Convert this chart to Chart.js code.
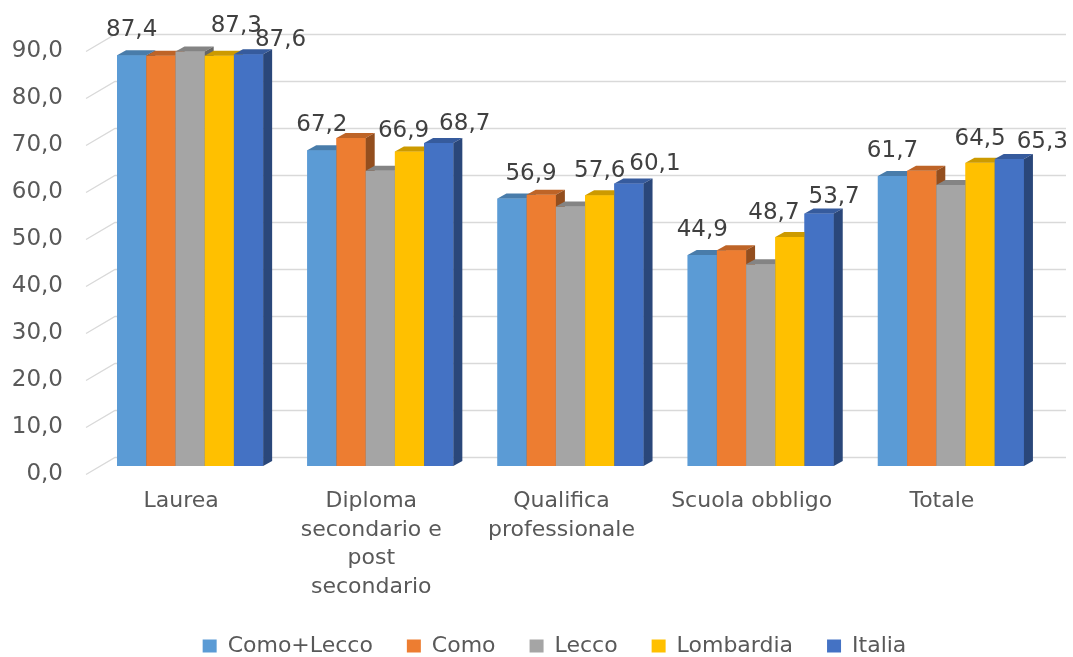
<!DOCTYPE html>
<html>
<head>
<meta charset="utf-8">
<script src="https://cdn.jsdelivr.net/npm/chart.js@4.4.0/dist/chart.umd.min.js"></script>
<style>
html, body { margin: 0; padding: 0; background: #fff; }
#wrap { width: 1073px; height: 657px; position: relative; }
</style>
</head>
<body>
<div id="wrap"><canvas id="chart"></canvas></div>
<script>
// ── Data ───────────────────────────────────────
const categories = ['Laurea', ['Diploma', 'secondario e', 'post', 'secondario'], ['Qualifica', 'professionale'], 'Scuola obbligo', 'Totale'];
const seriesNames = ['Como+Lecco', 'Como', 'Lecco', 'Lombardia', 'Italia'];
const comoLecco = [87.4, 67.2, 56.9, 44.9, 61.7];
const como      = [87.3, 69.8, 57.7, 45.9, 62.8];
const lecco     = [88.2, 62.8, 55.2, 42.9, 59.8];
const lombardia = [87.3, 66.9, 57.6, 48.7, 64.5];
const italia    = [87.6, 68.7, 60.1, 53.7, 65.3];
const yTicks = [0, 10, 20, 30, 40, 50, 60, 70, 80, 90];
const labelled = [true, false, false, true, true];   // which series show value labels

// ── Styles ─────────────────────────────────────
const barColors = ['#5B9BD5', '#ED7D31', '#A5A5A5', '#FFC000', '#4472C4'];
const labelDx = [0, 0, 0, 0, 26];
const labelDy = [-25, -25, -25, -24, -19];
// a few labels were moved by Excel to avoid overlaps ('series-category': [dx, dy])
const labelNudge = { '3-0': [17, -6], '4-0': [6, 5], '0-2': [19, 0], '3-1': [-6, 3], '3-3': [-16, 0], '4-3': [-11, 2], '4-4': [7, 2] };
const FONT = "'DejaVu Sans', sans-serif";
const wall = { dx: 29, dy: 17 };   // back wall offset of the gridlines
const shift = { dx: 9, dy: 8 };    // bars sit this far inside the floor
const depth = { dx: 9, dy: 5 };    // bar depth
const legendShift = 36;

function shade(hex, f) {
    const n = parseInt(hex.slice(1), 16);
    const r = Math.round(((n >> 16) & 255) * f);
    const g = Math.round(((n >> 8) & 255) * f);
    const b = Math.round((n & 255) * f);
    return 'rgb(' + r + ',' + g + ',' + b + ')';
}
const fmt = v => v.toFixed(1).replace('.', ',');

// ── 3D bars plugin ─────────────────────────────
const bars3d = {
    id: 'bars3d',
    afterLayout(chart) {
        // legend sits a little right of centre, like the original
        chart.legend.left += legendShift;
        chart.legend.right += legendShift;
    },
    beforeDatasetsDraw(chart) {
        const { ctx, chartArea: a, scales: { y } } = chart;
        ctx.save();
        ctx.strokeStyle = '#d9d9d9';
        ctx.lineWidth = 1.3;
        yTicks.forEach(v => {
            const py = Math.round(y.getPixelForValue(v)) + 0.5;
            ctx.beginPath();
            ctx.moveTo(a.left, py);
            ctx.lineTo(a.left + wall.dx, py - wall.dy);
            ctx.lineTo(a.right + wall.dx, py - wall.dy);
            ctx.stroke();
        });
        ctx.restore();
        ctx.save();
        ctx.translate(shift.dx, -shift.dy);
    },
    afterDatasetsDraw(chart) {
        const ctx = chart.ctx;
        const metas = chart.data.datasets.map((d, i) => chart.getDatasetMeta(i));
        // draw left to right so each front hides the previous side face
        categories.forEach((c, j) => {
            metas.forEach((meta, i) => {
                const bar = meta.data[j];
                const { x, y, base, width } = bar.getProps(['x', 'y', 'base', 'width'], true);
                const l = x - width / 2, r = x + width / 2;
                const col = barColors[i];
                ctx.fillStyle = col;
                ctx.fillRect(l, y, width, base - y);
                ctx.fillStyle = shade(col, 0.8);
                ctx.beginPath();
                ctx.moveTo(l, y); ctx.lineTo(r, y);
                ctx.lineTo(r + depth.dx, y - depth.dy); ctx.lineTo(l + depth.dx, y - depth.dy);
                ctx.closePath(); ctx.fill();
                ctx.fillStyle = shade(col, 0.62);
                ctx.beginPath();
                ctx.moveTo(r, y); ctx.lineTo(r + depth.dx, y - depth.dy);
                ctx.lineTo(r + depth.dx, base - depth.dy); ctx.lineTo(r, base);
                ctx.closePath(); ctx.fill();
            });
        });
        // value labels
        ctx.font = '23px ' + FONT;
        ctx.fillStyle = '#404040';
        ctx.textAlign = 'center';
        ctx.textBaseline = 'middle';
        metas.forEach((meta, i) => {
            if (!labelled[i]) return;
            const vals = chart.data.datasets[i].data;
            meta.data.forEach((bar, j) => {
                const n = labelNudge[i + '-' + j] || [0, 0];
                ctx.fillText(fmt(vals[j]), bar.x + labelDx[i] + n[0], bar.y + labelDy[i] + n[1]);
            });
        });
        ctx.restore();
    }
};

// ── Chart ──────────────────────────────────────
const seriesData = [comoLecco, como, lecco, lombardia, italia];
new Chart(document.getElementById('chart'), {
    type: 'bar',
    data: {
        labels: categories,
        datasets: seriesNames.map((name, i) => ({
            label: name,
            data: seriesData[i],
            backgroundColor: barColors[i],
            borderWidth: 0,
            categoryPercentage: 0.768,
            barPercentage: 1.0
        }))
    },
    options: {
        responsive: true, maintainAspectRatio: false,
        animation: false,
        layout: { padding: { top: 51, right: 36, left: 0, bottom: -10 } },
        plugins: {
            legend: {
                position: 'bottom',
                labels: {
                    boxWidth: 14, boxHeight: 13, padding: 34,
                    color: '#595959',
                    font: { family: FONT, size: 22 }
                }
            },
            tooltip: { enabled: false }
        },
        scales: {
            x: {
                grid: { display: false, drawTicks: false },
                border: { display: false },
                ticks: {
                    color: '#595959', padding: 13, maxRotation: 0, autoSkip: false,
                    font: { family: FONT, size: 22, lineHeight: 1.3 }
                },
                afterFit(s) { s.height = 127; }
            },
            y: {
                min: 0, max: 90,
                grid: { display: false, drawTicks: false },
                border: { display: false },
                ticks: {
                    stepSize: 10, padding: 23, color: '#595959',
                    font: { family: FONT, size: 23 },
                    callback: v => fmt(v)
                },
                afterFit(s) { s.width = 86; }
            }
        }
    },
    plugins: [bars3d]
});
</script>
</body>
</html>
